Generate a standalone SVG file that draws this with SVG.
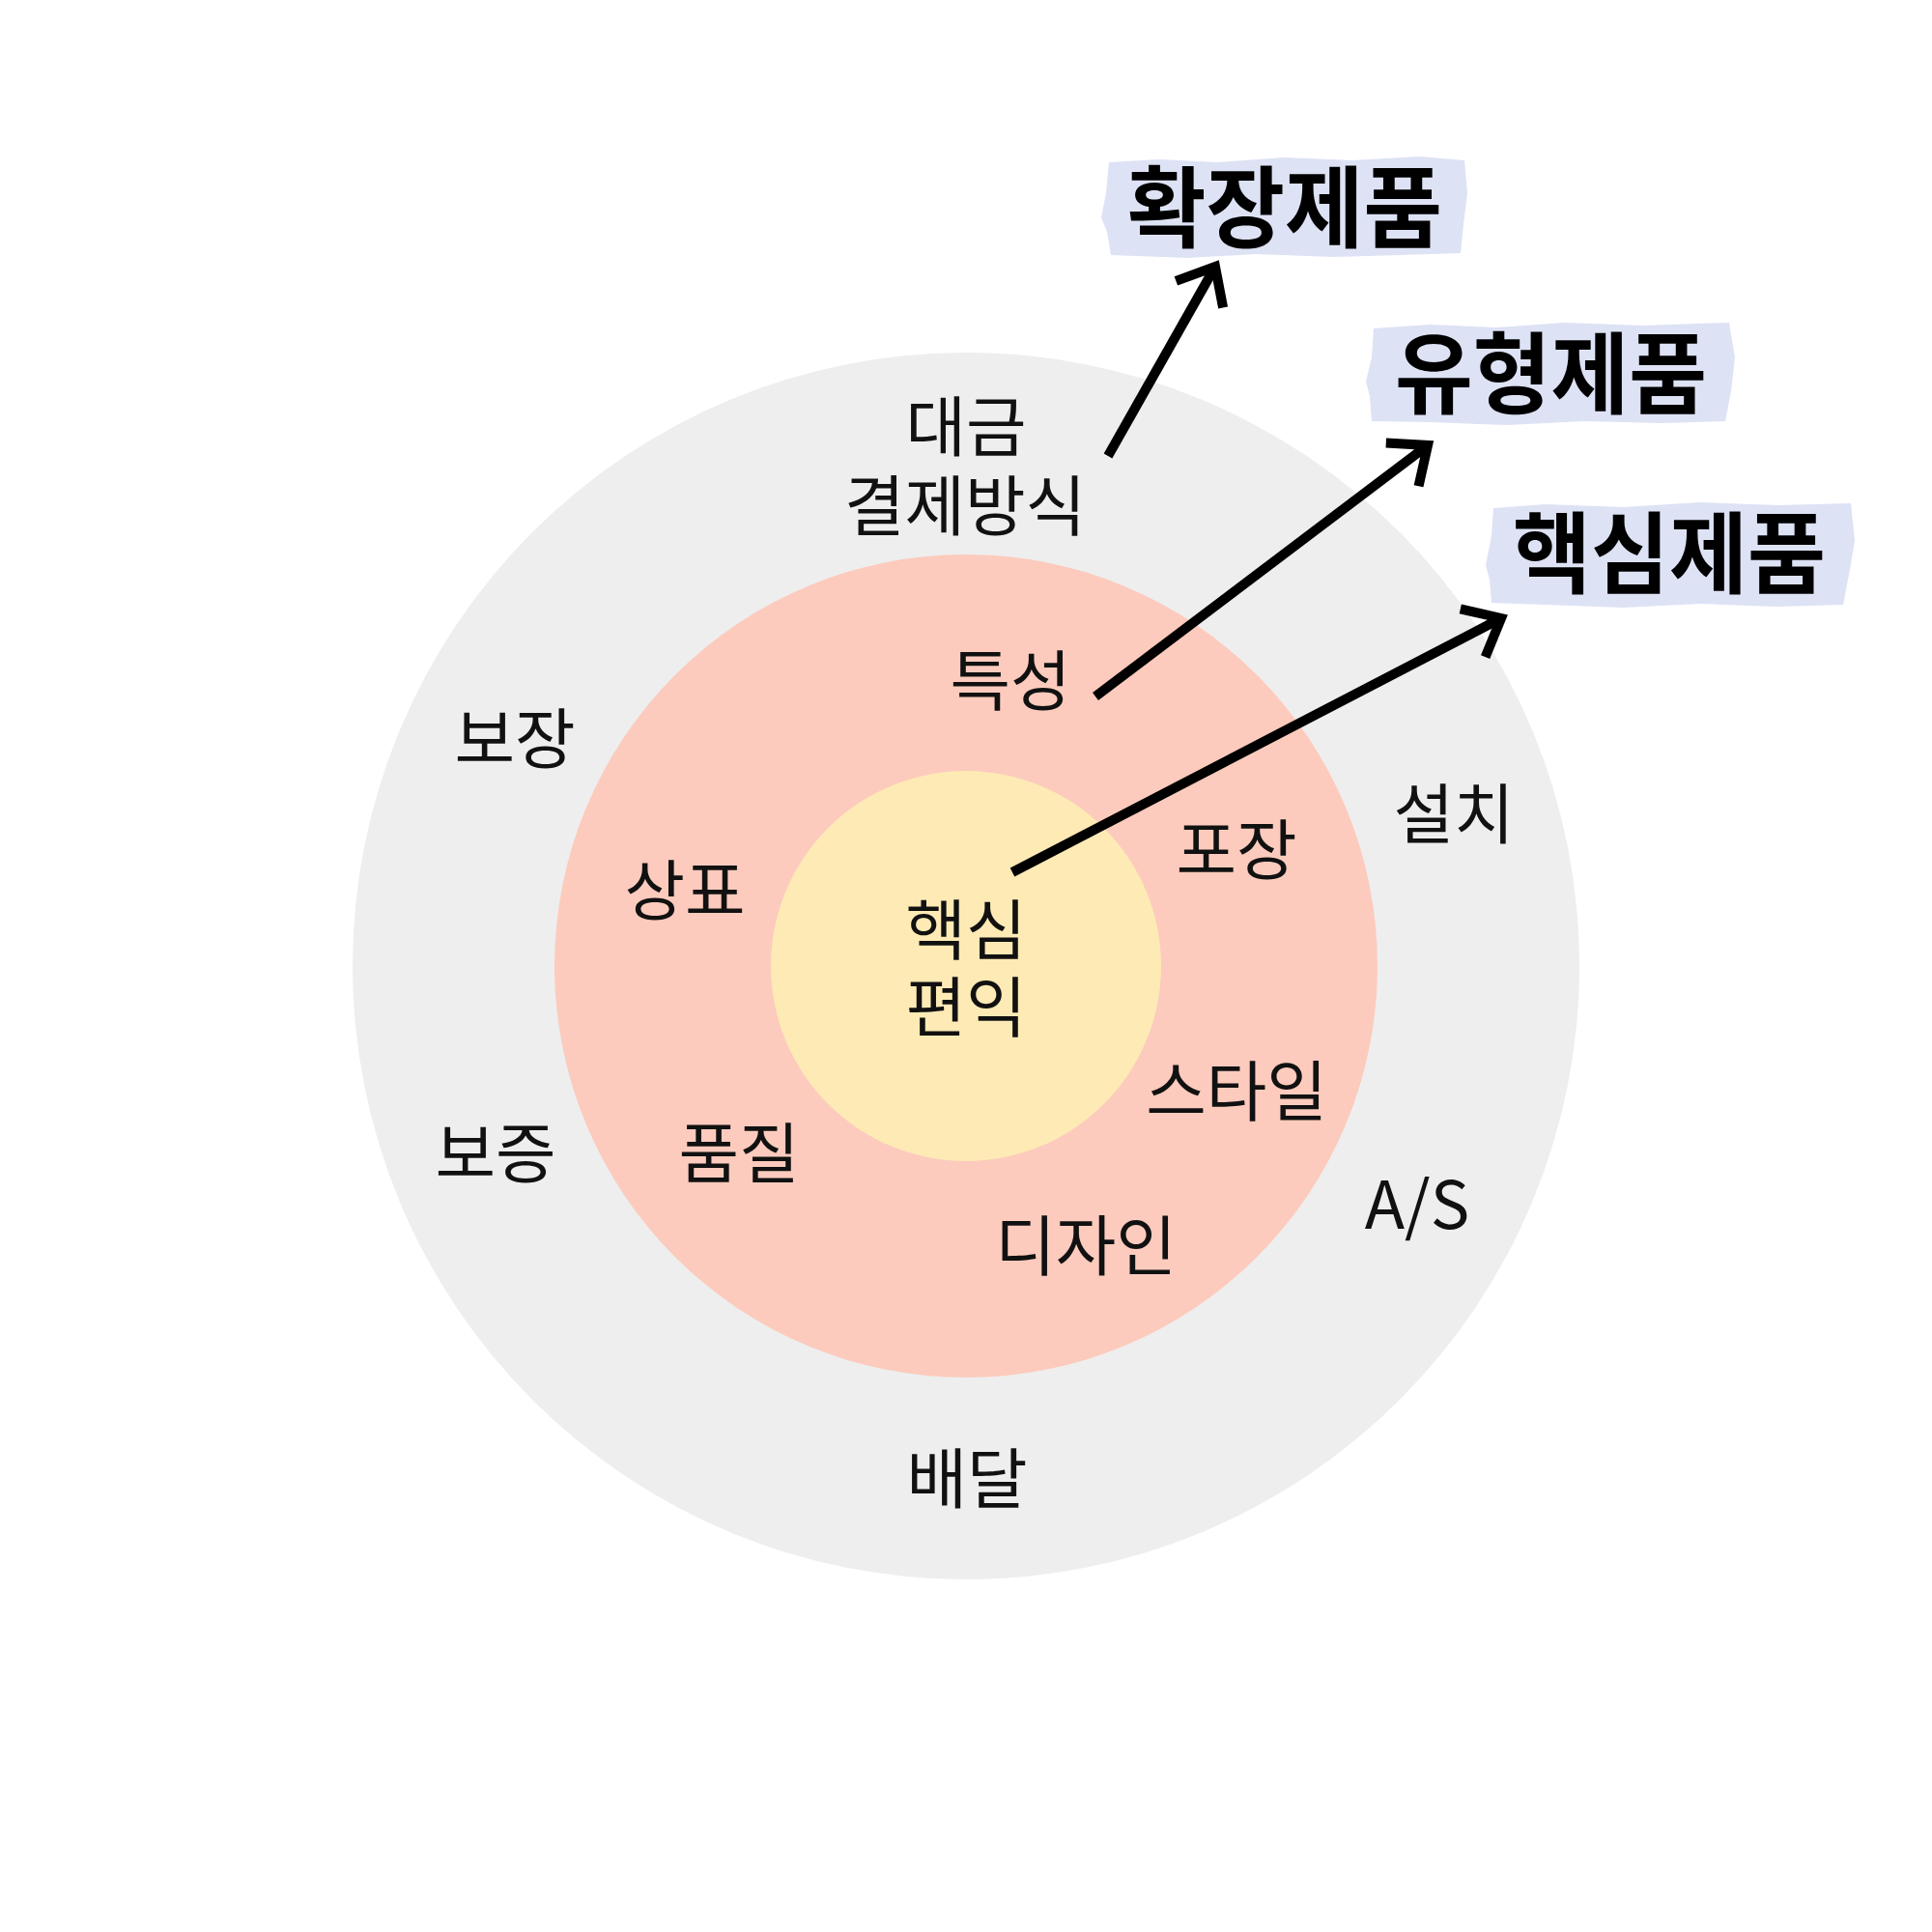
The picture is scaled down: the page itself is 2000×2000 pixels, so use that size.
<svg xmlns="http://www.w3.org/2000/svg" width="2000" height="2000" viewBox="0 0 2000 2000">
<defs>
<style>
.lbl{font-family:"Noto Sans CJK KR","Noto Sans",sans-serif;font-size:68px;fill:#111;text-anchor:middle}
.ttl{font-family:"Noto Sans CJK KR","Noto Sans",sans-serif;font-size:92px;font-weight:bold;fill:#000}
.box{fill:#dde2f5}
.arr{stroke:#000;stroke-width:10;fill:none;stroke-linecap:butt}
</style>
<marker id="ah" markerUnits="userSpaceOnUse" viewBox="-45 -40 55 80" refX="0" refY="0" markerWidth="55" markerHeight="80" orient="auto">
<path d="M-33,-28 L0,0 L-33,28" fill="none" stroke="#000" stroke-width="10" stroke-miterlimit="10"/>
</marker>
</defs>
<rect width="2000" height="2000" fill="#fff"/>
<g id="rings">
<circle cx="1000" cy="1000" r="635" fill="#eeeeee"/>
<circle cx="1000" cy="1000" r="426" fill="#fccbbd"/>
<circle cx="1000" cy="1000" r="202" fill="#feeab5"/>
</g>
<g id="labels">
<text class="lbl" x="1000" y="467">대금</text>
<text class="lbl" x="999" y="549">결제방식</text>
<text class="lbl" x="1046" y="730">특성</text>
<text class="lbl" x="533" y="790">보장</text>
<text class="lbl" x="1505" y="868">설치</text>
<text class="lbl" x="1280" y="905">포장</text>
<text class="lbl" x="709" y="947">상표</text>
<text class="lbl" x="1000" y="988">핵심</text>
<text class="lbl" x="1000" y="1068">편익</text>
<text class="lbl" x="1280" y="1155">스타일</text>
<text class="lbl" x="513" y="1219">보증</text>
<text class="lbl" x="765" y="1219">품질</text>
<text class="lbl" x="1467" y="1272">A/S</text>
<text class="lbl" x="1124" y="1315">디자인</text>
<text class="lbl" x="1001" y="1556">배달</text>
</g>
<g id="node-extended">
<path class="box" d="M1148,168 L1200,165 L1260,168 L1330,163 L1400,166 L1470,162 L1516,166 L1519,200 L1515,232 L1512,262 L1450,264 L1380,266 L1300,263 L1230,267 L1150,264 L1146,240 L1140,225 L1145,200 Z"/>
<text class="ttl" x="1167" y="249" textLength="326" lengthAdjust="spacingAndGlyphs">확장제품</text>
</g>
<g id="node-tangible">
<path class="box" d="M1422,340 L1480,336 L1550,339 L1620,334 L1700,337 L1790,334 L1796,370 L1792,405 L1786,436 L1720,438 L1640,436 L1560,440 L1480,437 L1420,436 L1418,410 L1414,395 L1420,370 Z"/>
<text class="ttl" x="1444" y="421" textLength="323" lengthAdjust="spacingAndGlyphs">유형제품</text>
</g>
<g id="node-core">
<path class="box" d="M1546,526 L1600,522 L1680,525 L1760,520 L1840,523 L1916,521 L1920,560 L1914,595 L1908,626 L1840,628 L1760,625 L1680,629 L1600,626 L1544,624 L1542,600 L1538,585 L1544,555 Z"/>
<text class="ttl" x="1566" y="607" textLength="324" lengthAdjust="spacingAndGlyphs">핵심제품</text>
</g>
<g id="connectors">
<line class="arr" x1="1147" y1="472" x2="1258" y2="276" marker-end="url(#ah)"/>
<line class="arr" x1="1134" y1="721" x2="1478" y2="461" marker-end="url(#ah)"/>
<line class="arr" x1="1048" y1="903" x2="1554" y2="640" marker-end="url(#ah)"/>
</g>
</svg>
